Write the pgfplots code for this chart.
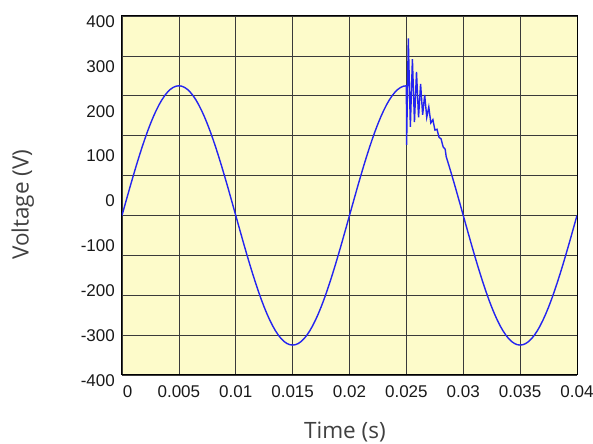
\documentclass[border=0pt]{standalone}
\usepackage{fontspec}
\setmainfont{Liberation Sans}
\newfontfamily\labelfont{Open Sans}
\usepackage{pgfplots}
\pgfplotsset{compat=1.18}
\usetikzlibrary{calc}
\definecolor{bgyellow}{HTML}{FDFBCA}
\definecolor{wave}{HTML}{2424F0}
\definecolor{gridc}{HTML}{3A3A3A}
\definecolor{labc}{HTML}{404040}

\begin{document}
\begin{tikzpicture}
% plot area: data in volts, grid every 100 V from -400 to 500
\begin{axis}[
    name=main,
    scale only axis,
    width=455pt, height=359pt,
    xmin=0, xmax=0.04,
    ymin=-400, ymax=500,
    xtick={0,0.005,0.01,0.015,0.02,0.025,0.03,0.035,0.04},
    xticklabels={\hspace*{11pt}0,0.005,0.01,0.015,0.02,0.025,0.03,0.035,0.04},
    ytick={-400,-300,-200,-100,0,100,200,300,400,500},
    yticklabels={},
    scaled x ticks=false,
    major tick length=0pt,
    grid=major,
    major grid style={gridc, line width=0.7pt},
    axis line style={black, line width=1pt},
    axis background/.style={fill=bgyellow},
    tick label style={font=\fontsize{17}{20}\selectfont, text=black!90},
    xticklabel style={anchor=north, inner sep=0pt, yshift=-10pt},
    xlabel={Time (s)},
    ylabel={Voltage (V)},
    xlabel style={font=\labelfont\fontsize{22.5}{26}\selectfont, text=labc,
        at={(axis description cs:0.49,-0.159)}, anchor=center},
    ylabel style={font=\labelfont\fontsize{22.5}{26}\selectfont, text=labc,
        at={(axis description cs:-0.218,0.474)}, anchor=center},
]
\addplot[wave, line width=1.4pt] coordinates {
(0,0) (0.00025,25.5) (0.0005,50.8) (0.00075,75.9) (0.001,100.4) (0.00125,124.4) (0.0015,147.5) (0.00175,169.8) (0.002,191.0) (0.00225,211.1) (0.0025,229.8) (0.00275,247.1) (0.003,262.9) (0.00325,277.1) (0.0035,289.6) (0.00375,300.3) (0.004,309.1) (0.00425,316.0) (0.0045,321.0) (0.00475,324.0) (0.005,325)
(0.00525,324.0) (0.0055,321.0) (0.00575,316.0) (0.006,309.1) (0.00625,300.3) (0.0065,289.6) (0.00675,277.1) (0.007,262.9) (0.00725,247.1) (0.0075,229.8) (0.00775,211.1) (0.008,191.0) (0.00825,169.8) (0.0085,147.5) (0.00875,124.4) (0.009,100.4) (0.00925,75.9) (0.0095,50.8) (0.00975,25.5) (0.01,0)
(0.01025,-25.5) (0.0105,-50.8) (0.01075,-75.9) (0.011,-100.4) (0.01125,-124.4) (0.0115,-147.5) (0.01175,-169.8) (0.012,-191.0) (0.01225,-211.1) (0.0125,-229.8) (0.01275,-247.1) (0.013,-262.9) (0.01325,-277.1) (0.0135,-289.6) (0.01375,-300.3) (0.014,-309.1) (0.01425,-316.0) (0.0145,-321.0) (0.01475,-324.0) (0.015,-325)
(0.01525,-324.0) (0.0155,-321.0) (0.01575,-316.0) (0.016,-309.1) (0.01625,-300.3) (0.0165,-289.6) (0.01675,-277.1) (0.017,-262.9) (0.01725,-247.1) (0.0175,-229.8) (0.01775,-211.1) (0.018,-191.0) (0.01825,-169.8) (0.0185,-147.5) (0.01875,-124.4) (0.019,-100.4) (0.01925,-75.9) (0.0195,-50.8) (0.01975,-25.5) (0.02,0)
(0.02025,25.5) (0.0205,50.8) (0.02075,75.9) (0.021,100.4) (0.02125,124.4) (0.0215,147.5) (0.02175,169.8) (0.022,191.0) (0.02225,211.1) (0.0225,229.8) (0.02275,247.1) (0.023,262.9) (0.02325,277.1) (0.0235,289.6) (0.02375,300.3) (0.024,309.1) (0.02425,316.0) (0.0245,321.0) (0.02475,324.0) (0.025,325)
(0.02502,177) (0.02517,444) (0.02535,222) (0.02553,392) (0.02571,234) (0.02589,360) (0.02607,246) (0.02625,330) (0.02643,252) (0.02661,302) (0.02679,246) (0.02697,272) (0.02715,232) (0.02733,240) (0.02751,214) (0.02769,216) (0.02787,196) (0.02805,192) (0.02823,172) (0.02841,166)
(0.0285,147.5) (0.02875,124.4) (0.029,100.4) (0.02925,75.9) (0.0295,50.8) (0.02975,25.5) (0.03,0)
(0.03025,-25.5) (0.0305,-50.8) (0.03075,-75.9) (0.031,-100.4) (0.03125,-124.4) (0.0315,-147.5) (0.03175,-169.8) (0.032,-191.0) (0.03225,-211.1) (0.0325,-229.8) (0.03275,-247.1) (0.033,-262.9) (0.03325,-277.1) (0.0335,-289.6) (0.03375,-300.3) (0.034,-309.1) (0.03425,-316.0) (0.0345,-321.0) (0.03475,-324.0) (0.035,-325)
(0.03525,-324.0) (0.0355,-321.0) (0.03575,-316.0) (0.036,-309.1) (0.03625,-300.3) (0.0365,-289.6) (0.03675,-277.1) (0.037,-262.9) (0.03725,-247.1) (0.0375,-229.8) (0.03775,-211.1) (0.038,-191.0) (0.03825,-169.8) (0.0385,-147.5) (0.03875,-124.4) (0.039,-100.4) (0.03925,-75.9) (0.0395,-50.8) (0.03975,-25.5) (0.04,0)
};
\end{axis}
% the y labels as printed in the figure: 400 ... -400 over the full height
\begin{axis}[
    at={(main.south west)}, anchor=south west, yshift=-5.5pt,
    scale only axis,
    width=455pt, height=359pt,
    xmin=0, xmax=1, ymin=-400, ymax=400,
    xtick=\empty,
    ytick={-400,-300,-200,-100,0,100,200,300,400},
    yticklabels={-400,-300,-200,-100,0,100,200,300,400},
    major tick length=0pt,
    axis line style={draw=none},
    tick style={draw=none},
    yticklabel style={font=\fontsize{17}{20}\selectfont, text=black!90,
        anchor=east, inner sep=0pt, xshift=-7pt},
]
\end{axis}
\pgfresetboundingbox
\path ($(main.south west)+(-122pt,-69pt)$) rectangle ($(main.north east)+(16pt,16pt)$);
\end{tikzpicture}
\end{document}
